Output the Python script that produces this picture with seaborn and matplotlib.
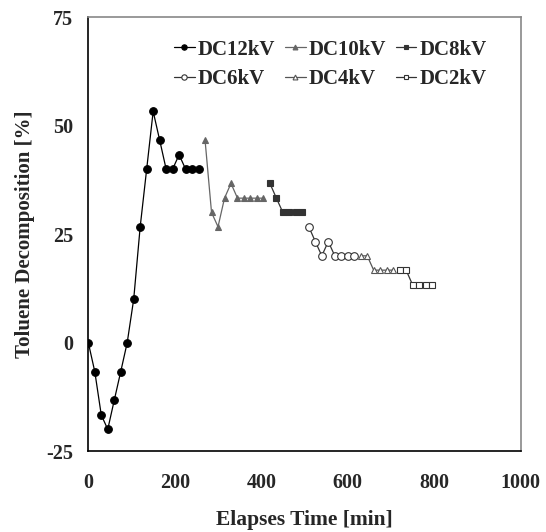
#!/usr/bin/env python3
"""
Toluene decomposition vs elapsed time for several DC voltages.
"""

import pandas as pd
import matplotlib.pyplot as plt
import seaborn as sns

t_12 = [0, 15, 30, 45, 60, 75, 90, 105, 120, 135, 150, 165, 180, 195, 210, 225, 240, 255]
v_12 = [0, -6.7, -16.7, -20, -13.3, -6.7, 0, 10, 26.7, 40, 53.3, 46.7, 40, 40, 43.3, 40, 40, 40]

t_10 = [270, 285, 300, 315, 330, 345, 360, 375, 390, 405]
v_10 = [46.7, 30, 26.7, 33.3, 36.7, 33.3, 33.3, 33.3, 33.3, 33.3]

t_8 = [420, 435, 450, 465, 480, 495]
v_8 = [36.7, 33.3, 30, 30, 30, 30]

t_6 = [510, 525, 540, 555, 570, 585, 600, 615]
v_6 = [26.7, 23.3, 20, 23.3, 20, 20, 20, 20]

t_4 = [630, 645, 660, 675, 690, 705]
v_4 = [20, 20, 16.7, 16.7, 16.7, 16.7]

t_2 = [720, 735, 750, 765, 780, 795]
v_2 = [16.7, 16.7, 13.3, 13.3, 13.3, 13.3]

labels = ["DC12kV", "DC10kV", "DC8kV", "DC6kV", "DC4kV", "DC2kV"]
x_ticks = [0, 200, 400, 600, 800, 1000]
y_ticks = [-25, 0, 25, 50, 75]

sns.set_theme(style="white")
plt.rcParams['font.family'] = ['Liberation Serif', 'DejaVu Serif']
plt.rcParams['font.weight'] = 'bold'
plt.rcParams['axes.unicode_minus'] = False

series = [
    (t_12, v_12, dict(marker='o', ms=5.5, mfc='black', mec='black', color='black')),
    (t_10, v_10, dict(marker='^', ms=5, mfc='#666666', mec='#666666', color='#666666')),
    (t_8, v_8, dict(marker='s', ms=5, mfc='#333333', mec='#333333', color='#333333')),
    (t_6, v_6, dict(marker='o', ms=5.5, mfc='white', mec='#333333', color='#333333')),
    (t_4, v_4, dict(marker='^', ms=5, mfc='white', mec='#555555', color='#555555')),
    (t_2, v_2, dict(marker='s', ms=5, mfc='white', mec='#333333', color='#333333')),
]

fig = plt.figure(figsize=(5.46, 5.32), dpi=100)
ax = fig.add_axes([88.3 / 546, 1 - 451 / 532, (520.7 - 88.3) / 546, (451 - 17.3) / 532])

for (t, v, style), lab in zip(series, labels):
    df = pd.DataFrame({'time': t, 'value': v})
    sns.lineplot(data=df, x='time', y='value', ax=ax, label=lab,
                 linewidth=0.9, mew=0.8, **style)

ax.set_xlim(0, 1000)
ax.set_ylim(-25, 75)
ax.set_xticks(x_ticks)
ax.set_yticks(y_ticks)
ax.tick_params(direction='in', length=4, width=0.8, labelsize=14.5)
ax.tick_params(axis='y', pad=11)
ax.tick_params(axis='x', pad=16)
for lbl in ax.get_xticklabels() + ax.get_yticklabels():
    lbl.set_fontweight('bold')

ax.set_xlabel('Elapses Time [min]', fontsize=15.5, fontweight='bold', labelpad=12)
ax.set_ylabel('Toluene Decomposition [%]', fontsize=15, fontweight='bold', labelpad=8)

for side in ['left', 'bottom']:
    ax.spines[side].set_color('black')
    ax.spines[side].set_linewidth(1.2)
for side in ['right', 'top']:
    ax.spines[side].set_color('#888888')
    ax.spines[side].set_linewidth(1.2)

# legend is filled row by row in the reference; matplotlib fills by column
handles, labs = ax.get_legend_handles_labels()
order = [0, 3, 1, 4, 2, 5]
ax.legend([handles[i] for i in order], [labs[i] for i in order],
          ncol=3, loc='upper right', frameon=False,
          prop={'weight': 'bold', 'size': 15}, handlelength=1.0,
          handletextpad=0.15, columnspacing=0.45, labelspacing=0.45,
          markerscale=0.7, bbox_to_anchor=(0.965, 0.992))

fig.savefig('out.png', dpi=100)
